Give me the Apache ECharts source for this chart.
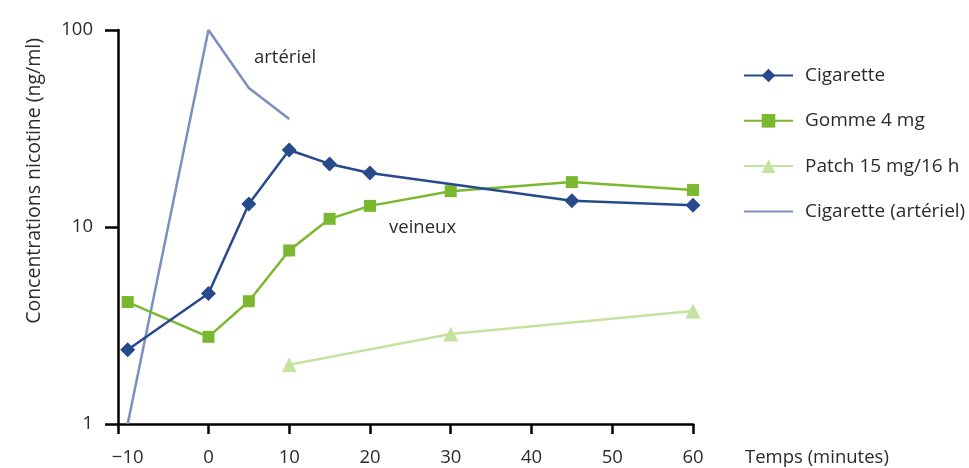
<!DOCTYPE html>
<html>
<head>
<meta charset="utf-8">
<style>
  html, body { margin: 0; padding: 0; background: #fff; }
  #chart { width: 969px; height: 468px; }
</style>
<script src="https://cdn.jsdelivr.net/npm/echarts@6/dist/echarts.min.js"></script>
</head>
<body>
<div id="chart"></div>
<script>
// Nicotine plasma concentration (ng/ml) over time (minutes), log scale
const seriesNames = ['Cigarette', 'Gomme 4 mg', 'Patch 15 mg/16 h', 'Cigarette (artériel)'];

const cigaretteTimes = [-10, 0, 5, 10, 15, 20, 45, 60];
const cigaretteValues = [2.38, 4.6, 13.1, 24.6, 20.9, 18.8, 13.6, 12.9];

const gommeTimes = [-10, 0, 5, 10, 15, 20, 30, 45, 60];
const gommeValues = [4.16, 2.77, 4.2, 7.6, 11.0, 12.8, 15.2, 16.9, 15.4];

const patchTimes = [10, 30, 60];
const patchValues = [2.0, 2.86, 3.75];

const arterialTimes = [-10, 0, 5, 10];
const arterialValues = [1, 100, 50.8, 35.3];

const yTicks = [1, 10, 100];
const xTicks = [-10, 0, 10, 20, 30, 40, 50, 60];

// the time axis starts a little before the first sample, where the y axis sits
const X_AXIS_MIN = -11.2;
const X_AXIS_MAX = 60;

const FONT = 'Open Sans';
const TEXT = '#2b2b2b';
const FS = 18.5;

function pairs(xs, ys) { return xs.map((x, i) => [x, ys[i]]); }

const chart = echarts.init(document.getElementById('chart'), null, { renderer: 'canvas' });

chart.setOption({
  animation: false,
  backgroundColor: '#fff',
  textStyle: { fontFamily: FONT },
  grid: { left: 118, right: 276, top: 30, bottom: 44, containLabel: false },
  xAxis: {
    type: 'value',
    min: X_AXIS_MIN,
    max: X_AXIS_MAX,
    splitLine: { show: false },
    axisLine: { show: true, onZero: false, lineStyle: { color: '#000', width: 2.5 } },
    axisTick: {
      show: true, length: 10,
      customValues: [X_AXIS_MIN].concat(xTicks.slice(1)),
      lineStyle: { color: '#000', width: 2.5 }
    },
    axisLabel: {
      color: TEXT, fontSize: FS, fontFamily: FONT, margin: 24,
      customValues: xTicks,
      formatter: v => String(v).replace('-', '\u2212')
    },
    name: 'Temps (minutes)',
    nameLocation: 'end',
    nameGap: 0,
    nameTextStyle: { color: TEXT, fontSize: FS, fontFamily: FONT, align: 'left', verticalAlign: 'top', padding: [24, 0, 0, 52] }
  },
  yAxis: {
    type: 'log',
    logBase: 10,
    min: yTicks[0],
    max: yTicks[yTicks.length - 1],
    splitLine: { show: false },
    minorTick: { show: false },
    axisLine: { show: true, onZero: false, lineStyle: { color: '#000', width: 2.5 } },
    axisTick: { show: true, length: 13, lineStyle: { color: '#000', width: 2.5 } },
    axisLabel: { color: TEXT, fontSize: FS, fontFamily: FONT, margin: 25, padding: [0, 0, 12, 0] }
  },
  legend: {
    orient: 'vertical',
    left: 743,
    top: 66,
    padding: 0,
    itemWidth: 49,
    itemHeight: 17,
    itemGap: 26.3,
    textStyle: { color: TEXT, fontSize: 19, fontFamily: FONT, padding: [0, 0, 0, 7] },
    data: [
      seriesNames[0],
      seriesNames[1],
      seriesNames[2],
      { name: seriesNames[3], itemStyle: { opacity: 0 } }
    ]
  },
  graphic: [
    {
      type: 'text', left: 24, top: 38,
      rotation: Math.PI / 2,
      style: { text: 'Concentrations nicotine (ng/ml)', fill: TEXT, font: '19.5px "' + FONT + '"' }
    },
    { type: 'text', left: 254, top: 48, style: { text: 'artériel', fill: TEXT, font: FS + 'px "' + FONT + '"' } },
    { type: 'text', left: 389, top: 218, style: { text: 'veineux', fill: TEXT, font: FS + 'px "' + FONT + '"' } }
  ],
  series: [
    {
      name: seriesNames[0], type: 'line', z: 4,
      data: pairs(cigaretteTimes, cigaretteValues),
      symbol: 'diamond', symbolSize: 15,
      itemStyle: { color: '#264a8b' },
      lineStyle: { color: '#264a8b', width: 2.5 }
    },
    {
      name: seriesNames[1], type: 'line', z: 3,
      data: pairs(gommeTimes, gommeValues),
      symbol: 'rect', symbolSize: 12,
      itemStyle: { color: '#7ab92f' },
      lineStyle: { color: '#7ab92f', width: 2.5 }
    },
    {
      name: seriesNames[2], type: 'line', z: 3,
      data: pairs(patchTimes, patchValues),
      symbol: 'triangle', symbolSize: 15,
      itemStyle: { color: '#c6e2a0' },
      lineStyle: { color: '#c6e2a0', width: 2.5 }
    },
    {
      name: seriesNames[3], type: 'line', z: 2,
      data: pairs(arterialTimes, arterialValues),
      symbol: 'none',
      itemStyle: { color: '#7c8fbf' },
      lineStyle: { color: '#7c8fbf', width: 2.5 }
    }
  ]
});
</script>
</body>
</html>
